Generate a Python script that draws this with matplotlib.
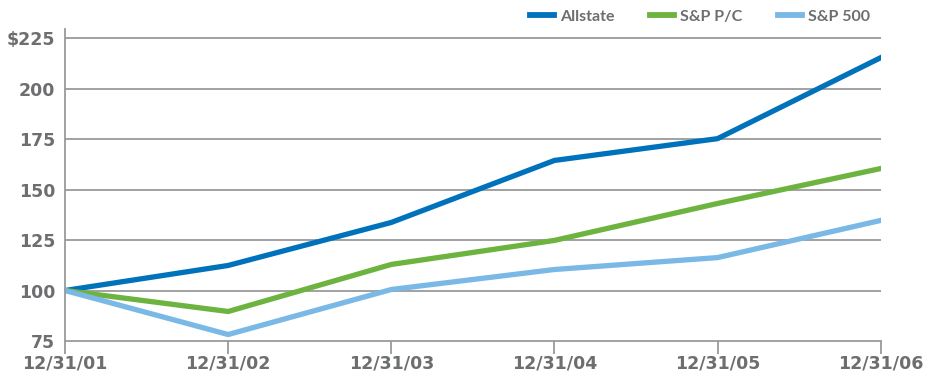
import matplotlib.pyplot as plt

# ---------------- Data ----------------
dates = ['12/31/01', '12/31/02', '12/31/03', '12/31/04', '12/31/05', '12/31/06']
allstate = [100, 112.4, 133.7, 164.4, 175.2, 215.3]
sp_pc = [100, 89.6, 112.9, 124.8, 143.1, 160.4]
sp_500 = [100, 78.2, 100.5, 110.4, 116.3, 134.7]
y_ticks = [75, 100, 125, 150, 175, 200, 225]
y_labels = ['75', '100', '125', '150', '175', '200', '$225']

gray = '#6d6e70'
grid_gray = '#9a9a9a'

plt.rcParams['font.family'] = ['DejaVu Sans']
plt.rcParams['font.weight'] = 'bold'

fig = plt.figure(figsize=(9.29, 3.75), dpi=100)
ax = fig.add_axes([0.07, 0.0907, 0.878, 0.832])

x = list(range(len(dates)))
ax.plot(x, allstate, color='#0072bc', lw=3.8, label='Allstate')
ax.plot(x, sp_pc, color='#6db33f', lw=3.8, label='S&P P/C')
ax.plot(x, sp_500, color='#7ab8e6', lw=3.8, label='S&P 500')

ax.set_xlim(0, 5)
ax.set_ylim(75, 229.5)
ax.set_yticks(y_ticks)
ax.set_yticklabels(y_labels)
ax.set_xticks(x)
ax.set_xticklabels(dates)

# horizontal gridlines
for yv in y_ticks[1:]:
    ax.axhline(yv, color=grid_gray, lw=1.3, zorder=0)

for s in ['top', 'right']:
    ax.spines[s].set_visible(False)
for s in ['left', 'bottom']:
    ax.spines[s].set_color(grid_gray)
    ax.spines[s].set_linewidth(1.3)

ax.tick_params(axis='y', length=0, pad=7, labelsize=12.5, labelcolor=gray)
ax.tick_params(axis='x', length=9, width=1.3, color=grid_gray, pad=1,
               labelsize=12.5, labelcolor=gray)

leg = fig.legend(loc='upper right', bbox_to_anchor=(0.9365, 0.975), ncol=3,
                 frameon=False, borderpad=0, borderaxespad=0,
                 handlelength=1.5, columnspacing=2.2, handletextpad=0.4,
                 prop={'family': 'Lato', 'weight': 'bold', 'size': 11.5})
for t in leg.get_texts():
    t.set_color(gray)
for h in leg.legend_handles:
    h.set_linewidth(4.2)

plt.savefig('out.png', dpi=100)
